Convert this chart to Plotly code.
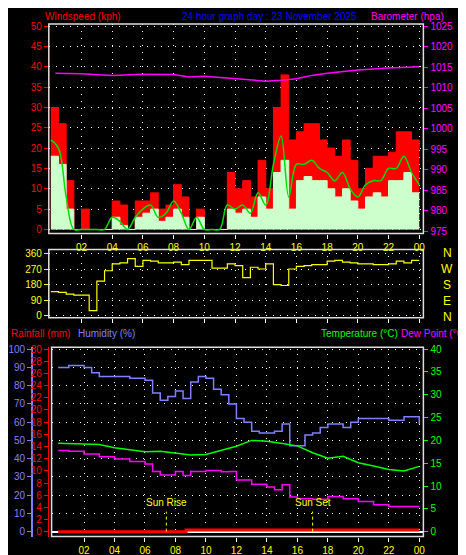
import plotly.graph_objects as go

# half-hour steps 0..24
hours = [i * 0.5 for i in range(49)]
gust = [30, 26, 12, 0, 5, 0, 0, 0, 7, 6, 0, 7, 7, 9, 5, 6, 11, 8, 0, 5, 0, 0, 0, 14, 10,
        12, 8, 17, 10, 30, 38, 22, 24, 26, 26, 22, 20, 18, 22, 17, 10, 15, 18, 18, 19, 24, 24, 22, 20]
speed = [18, 16, 5, 0, 0, 0, 0, 0, 3, 1, 0, 3, 4, 5, 2, 3, 5, 3, 0, 3, 0, 0, 0, 5, 4,
         5, 3, 8, 5, 14, 17, 5, 12, 13, 12, 12, 10, 8, 10, 7, 5, 8, 9, 8, 12, 12, 14, 9, 9]
avg = [22, 20, 8, 0, 0, 0, 0, 0, 3, 2, 0, 3, 5, 6, 3, 4, 7, 4, 0, 3, 0, 0, 0, 6, 5,
       6, 4, 9, 6, 16, 23, 8, 16, 16, 17, 15, 14, 12, 14, 10, 8, 11, 12, 12, 15, 15, 18, 14, 11]
wind_dir = [140, 135, 125, 120, 120, 30, 200, 260, 300, 305, 330, 285, 320, 315, 305, 305, 310,
            295, 320, 320, 320, 275, 275, 300, 290, 220, 280, 270, 300, 180, 175, 270, 285, 290,
            295, 295, 315, 320, 310, 305, 300, 300, 295, 295, 300, 315, 305, 320, 320]

baro_h = [0.3, 2, 4, 6, 8, 9, 10, 12, 13, 14, 15, 16, 17, 18, 20, 22, 24]
baro = [1013.5, 1013.4, 1013.0, 1013.3, 1013.2, 1012.6, 1012.8, 1012.2, 1011.8, 1011.6,
        1011.8, 1012.2, 1013.0, 1013.5, 1014.3, 1014.8, 1015.1]

hum_h = [0.3, 1, 2, 2.5, 3, 4, 5, 6, 6.5, 7, 7.5, 8, 8.5, 9, 9.5, 10, 10.5, 11, 11.5, 12, 12.5,
         13, 13.5, 14, 14.5, 15, 15.5, 16, 16.5, 17, 17.5, 18, 19, 19.5, 20, 21, 22, 23, 23.5, 24]
humidity = [90, 91, 90, 87, 85, 85, 84, 83, 76, 72, 74, 77, 73, 82, 85, 84, 78, 75, 70, 62, 60,
            55, 54, 54, 55, 59, 47, 47, 53, 54, 57, 59, 57, 60, 62, 62, 61, 63, 63, 59]

th = [0.3, 2, 3, 4, 5, 6, 7, 8, 9, 10, 11, 12, 13, 14, 15, 16, 17, 18, 19, 20, 21, 22, 23, 24]
temp = [19.4, 19.2, 19.1, 18.4, 18.0, 17.5, 17.6, 17.2, 16.8, 16.9, 17.8, 18.7, 20.0, 19.8,
        19.3, 18.8, 17.3, 16.1, 16.5, 15.1, 14.4, 13.6, 13.3, 14.3]

dh = [0.3, 1, 2, 3, 4, 5, 6, 6.5, 7, 8, 8.5, 9, 10, 11, 11.5, 12, 13, 14, 14.5, 15, 15.5, 16,
      17, 18, 19, 20, 21, 22, 23, 24]
dew = [17.8, 17.6, 17.0, 16.4, 15.9, 15.4, 14.8, 13.2, 12.4, 13.2, 12.3, 13.2, 13.4, 13.1,
       13.2, 11.3, 10.4, 9.8, 9.2, 10.3, 7.6, 7.2, 7.1, 7.7, 7.2, 6.6, 5.9, 5.5, 5.5, 5.5]

rain_h = [0.3, 8.6, 8.7, 24]
rain = [0, 0, 0.3, 0.3]

sun_rise, sun_set = 7.4, 17.0

ticks = list(range(2, 25, 2))
tick_text = ["%02d" % (t % 24) for t in ticks]
F = "Liberation Sans"

fig = go.Figure()
def line(x, y, color, width, xa, ya, shape="linear", **kw):
    fig.add_trace(go.Scatter(x=x, y=y, mode="lines", line_shape=shape,
                             line=dict(color=color, width=width), xaxis=xa, yaxis=ya, **kw))

line(hours, gust, "#ff0000", 1, "x", "y", "hv", fill="tozeroy", fillcolor="#ff0000")
line(hours, speed, "#ccffcc", 1, "x", "y", "hv", fill="tozeroy", fillcolor="#ccffcc")
line(hours, avg, "#00dd00", 1.5, "x", "y", "spline")
line(baro_h, baro, "#ff00ff", 1.5, "x", "y2")
line(hours, wind_dir, "#ffff00", 1.2, "x2", "y3", "hv")
line(rain_h, rain, "#ff0000", 3, "x3", "y4", "hv")
line(hum_h, humidity, "#8080ff", 1.5, "x3", "y5", "hv")
line(th, temp, "#00ff00", 1.5, "x3", "y6")
line(dh, dew, "#ff00ff", 1.5, "x3", "y6", "hv")

grid = dict(showgrid=True, gridcolor="white", griddash="1px,6px", gridwidth=1, zeroline=False)
xcommon = dict(range=[-0.13, 24.27], tickvals=ticks, ticktext=tick_text, ticks="outside", ticklen=4,
               tickcolor="white", tickfont=dict(color="#ffff00", size=10, family=F), **grid)
tf = lambda c: dict(color=c, size=10, family=F)

fig.update_layout(
    width=466, height=555, margin=dict(l=0, r=0, t=0, b=0), showlegend=False,
    paper_bgcolor="black", plot_bgcolor="black",
    xaxis=dict(domain=[0.086, 0.895], anchor="y", **xcommon),
    yaxis=dict(domain=[0.595, 0.978], range=[-1, 50.5], dtick=5, ticks="outside", ticklen=4,
               tickcolor="#ff0000", showline=True, linecolor="#ff0000", tickfont=tf("#ff0000"), **grid),
    yaxis2=dict(overlaying="y", side="right", range=[974.5, 1025.5], dtick=5, ticks="outside",
                ticklen=4, tickcolor="#ff00ff", showline=True, linecolor="#ff00ff", showgrid=False,
                tickfont=tf("#ff00ff")),
    xaxis2=dict(domain=[0.086, 0.895], anchor="y3", showticklabels=False, **{k: v for k, v in xcommon.items() if k != "tickfont"}),
    yaxis3=dict(domain=[0.441, 0.566], range=[-11, 383], tickvals=[0, 90, 180, 270, 360], ticks="outside",
                ticklen=4, tickcolor="#ffff00", showline=True, linecolor="#ffff00",
                tickfont=tf("#ffff00"), **grid),
    xaxis3=dict(domain=[0.092, 0.895], anchor="y4", **xcommon),
    yaxis4=dict(domain=[0.041, 0.387], range=[-0.8, 30.3], dtick=2, ticks="outside", ticklen=4,
                tickcolor="#ff0000", showline=True, linecolor="#ff0000", showgrid=False,
                zeroline=False, tickfont=tf("#ff0000")),
    yaxis5=dict(overlaying="y4", anchor="free", position=0.05, range=[-2.7, 101], dtick=10,
                ticks="outside", ticklen=4, tickcolor="#8080ff", showline=True, linecolor="#8080ff",
                linewidth=2, tickfont=tf("#8080ff"), **grid),
    yaxis6=dict(overlaying="y4", side="right", range=[-1.08, 40.4], dtick=5, ticks="outside",
                ticklen=4, tickcolor="#00ff00", showline=True, linecolor="#00ff00", showgrid=False,
                tickfont=tf("#00ff00")),
)

for xr, yr in [("x", "y"), ("x2", "y3"), ("x3", "y4")]:
    fig.add_shape(type="rect", xref=xr + " domain", yref=yr + " domain", x0=0, x1=1, y0=0, y1=1,
                  line=dict(color="#dddddd", width=1.5))

for t, text in [(sun_rise, "Sun Rise"), (sun_set, "Sun Set")]:
    fig.add_shape(type="line", xref="x3", yref="y5", x0=t, x1=t, y0=0, y1=11,
                  line=dict(color="#ffff00", width=1, dash="dot"))
    fig.add_annotation(x=t, y=12, xref="x3", yref="y5", text=text, showarrow=False, yanchor="bottom",
                       font=tf("#ffff00"))

def label(x, y, text, color, anchor="left", size=10):
    fig.add_annotation(x=x / 466, y=1 - y / 555, xref="paper", yref="paper", text=text, showarrow=False,
                       xanchor=anchor, yanchor="middle", xshift=0, font=dict(color=color, size=size, family=F))

label(34, 5, "Windspeed (kph)", "#ff0000")
label(262, 5, "24 hour graph day : 23 November 2025", "#0000ff", "center")
label(440, 5, "Barometer (hpa)", "#ff00ff", "right")
for i, c in enumerate("NWSEN"):
    label(441, 245 + i * 16, c, "#ffff00", "center", 12)
label(0, 326, "Rainfall (mm)", "#ff0000")
label(67, 326, "Humidity (%)", "#8080ff")
label(312, 326, "Temperature (°C)", "#00ff00")
label(463, 326, "Dew Point (°C)", "#ff00ff", "right")

fig.write_html("out.html")
